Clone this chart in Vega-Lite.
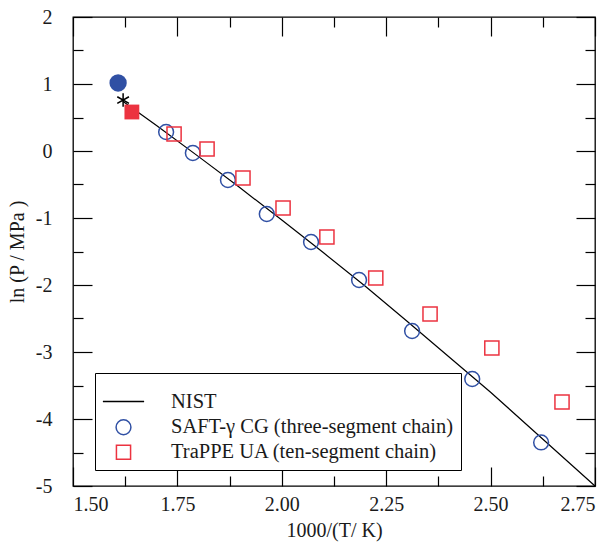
{
  "$schema": "https://vega.github.io/schema/vega-lite/v6.json",
  "width": 522,
  "height": 469,
  "autosize": {"type": "none"},
  "padding": {"left": 73, "top": 17, "right": 21, "bottom": 59},
  "background": "white",
  "config": {
    "font": "Liberation Serif",
    "view": {"stroke": "black", "strokeWidth": 1.3},
    "axis": {
      "domain": false,
      "grid": false,
      "labelFont": "Liberation Serif",
      "labelFontSize": 20,
      "labelColor": "#1a1a1a",
      "titleFont": "Liberation Serif",
      "titleFontSize": 20,
      "titleFontWeight": "normal",
      "titleColor": "#1a1a1a",
      "tickColor": "black",
      "tickWidth": 1.2
    },
    "legend": {
      "orient": "none",
      "legendX": 22,
      "legendY": 356,
      "fillColor": "white",
      "strokeColor": "black",
      "padding": 7,
      "labelFont": "Liberation Serif",
      "labelFontSize": 20.5,
      "labelColor": "#1a1a1a",
      "labelLimit": 500,
      "labelOffset": 26,
      "symbolStrokeWidth": 1.5,
      "rowPadding": 4
    }
  },
  "datasets": {
    "nist": [
      {"x": 1.62, "y": 0.74, "series": "NIST"},
      {"x": 1.70, "y": 0.38, "series": "NIST"},
      {"x": 1.80, "y": -0.08, "series": "NIST"},
      {"x": 1.90, "y": -0.55, "series": "NIST"},
      {"x": 2.00, "y": -1.03, "series": "NIST"},
      {"x": 2.10, "y": -1.52, "series": "NIST"},
      {"x": 2.20, "y": -2.02, "series": "NIST"},
      {"x": 2.30, "y": -2.54, "series": "NIST"},
      {"x": 2.40, "y": -3.07, "series": "NIST"},
      {"x": 2.50, "y": -3.60, "series": "NIST"},
      {"x": 2.60, "y": -4.16, "series": "NIST"},
      {"x": 2.70, "y": -4.72, "series": "NIST"},
      {"x": 2.75, "y": -5.0, "series": "NIST"}
    ],
    "sim": [
      {"x": 1.723, "y": 0.284, "series": "SAFT-γ CG (three-segment chain)"},
      {"x": 1.787, "y": -0.03, "series": "SAFT-γ CG (three-segment chain)"},
      {"x": 1.871, "y": -0.433, "series": "SAFT-γ CG (three-segment chain)"},
      {"x": 1.964, "y": -0.94, "series": "SAFT-γ CG (three-segment chain)"},
      {"x": 2.070, "y": -1.358, "series": "SAFT-γ CG (three-segment chain)"},
      {"x": 2.185, "y": -1.925, "series": "SAFT-γ CG (three-segment chain)"},
      {"x": 2.312, "y": -2.687, "series": "SAFT-γ CG (three-segment chain)"},
      {"x": 2.456, "y": -3.403, "series": "SAFT-γ CG (three-segment chain)"},
      {"x": 2.621, "y": -4.35, "series": "SAFT-γ CG (three-segment chain)"},
      {"x": 1.742, "y": 0.254, "series": "TraPPE UA (ten-segment chain)"},
      {"x": 1.821, "y": 0.03, "series": "TraPPE UA (ten-segment chain)"},
      {"x": 1.907, "y": -0.403, "series": "TraPPE UA (ten-segment chain)"},
      {"x": 2.003, "y": -0.851, "series": "TraPPE UA (ten-segment chain)"},
      {"x": 2.108, "y": -1.284, "series": "TraPPE UA (ten-segment chain)"},
      {"x": 2.225, "y": -1.896, "series": "TraPPE UA (ten-segment chain)"},
      {"x": 2.355, "y": -2.433, "series": "TraPPE UA (ten-segment chain)"},
      {"x": 2.503, "y": -2.94, "series": "TraPPE UA (ten-segment chain)"},
      {"x": 2.671, "y": -3.746, "series": "TraPPE UA (ten-segment chain)"}
    ],
    "critSaft": [{"x": 1.608, "y": 1.015}],
    "critNist": [{"x": 1.620, "y": 0.76}],
    "critTrappe": [{"x": 1.641, "y": 0.582}]
  },
  "layer": [
    {
      "data": {"name": "nist"},
      "mark": {"type": "line", "strokeWidth": 1.2},
      "encoding": {
        "x": {"field": "x", "type": "quantitative", "scale": {"domain": [1.5, 2.75], "nice": false, "zero": false},
          "axis": {"orient": "bottom", "values": [1.5, 1.75, 2.0, 2.25, 2.5, 2.75], "format": ".2f", "tickSize": -19, "labelPadding": 27, "title": "1000/(T/ K)", "titlePadding": 6}},
        "y": {"field": "y", "type": "quantitative", "scale": {"domain": [-5, 2], "nice": false, "zero": false},
          "axis": {"orient": "left", "values": [-5, -4, -3, -2, -1, 0, 1, 2], "labelExpr": "replace(datum.label, '\u2212', '-')", "tickSize": -19, "labelPadding": 40, "title": "ln (P / MPa )", "titlePadding": 8}},
        "color": {"field": "series", "type": "nominal", "title": null,
          "scale": {"domain": ["NIST", "SAFT-γ CG (three-segment chain)", "TraPPE UA (ten-segment chain)"], "range": ["black", "#3050a4", "#ec3340"]}}
      }
    },
    {
      "data": {"name": "sim"},
      "mark": {"type": "point", "filled": false, "strokeWidth": 1.5, "opacity": 1},
      "encoding": {
        "x": {"field": "x", "type": "quantitative", "scale": {"domain": [1.5, 2.75], "nice": false, "zero": false},
          "axis": {"orient": "top", "values": [1.5, 1.75, 2.0, 2.25, 2.5, 2.75], "tickSize": -19, "labels": false, "title": null}},
        "y": {"field": "y", "type": "quantitative", "scale": {"domain": [-5, 2], "nice": false, "zero": false},
          "axis": {"orient": "right", "values": [-5, -4, -3, -2, -1, 0, 1, 2], "tickSize": -19, "labels": false, "title": null}},
        "color": {"field": "series", "type": "nominal", "title": null,
          "scale": {"domain": ["NIST", "SAFT-γ CG (three-segment chain)", "TraPPE UA (ten-segment chain)"], "range": ["black", "#3050a4", "#ec3340"]}},
        "shape": {"field": "series", "type": "nominal", "title": null,
          "scale": {"domain": ["NIST", "SAFT-γ CG (three-segment chain)", "TraPPE UA (ten-segment chain)"], "range": ["stroke", "circle", "square"]}},
        "size": {"field": "series", "type": "nominal", "title": null,
          "scale": {"type": "ordinal", "domain": ["NIST", "SAFT-γ CG (three-segment chain)", "TraPPE UA (ten-segment chain)"], "range": [1700, 220, 200]}}
      }
    },
    {
      "data": {"name": "critSaft"},
      "mark": {"type": "point", "filled": true, "shape": "circle", "size": 300, "color": "#3050a4", "opacity": 1},
      "encoding": {
        "x": {"field": "x", "type": "quantitative", "scale": {"domain": [1.5, 2.75], "nice": false, "zero": false},
          "axis": {"orient": "bottom", "values": [1.625, 1.875, 2.125, 2.375, 2.625], "tickSize": -10, "labels": false, "title": null}},
        "y": {"field": "y", "type": "quantitative", "scale": {"domain": [-5, 2], "nice": false, "zero": false},
          "axis": {"orient": "left", "values": [-4.5, -3.5, -2.5, -1.5, -0.5, 0.5, 1.5], "tickSize": -10, "labels": false, "title": null}}
      }
    },
    {
      "data": {"name": "critNist"},
      "mark": {"type": "point", "filled": false, "shape": "M0,-1L0,1M-0.87,-0.5L0.87,0.5M-0.87,0.5L0.87,-0.5", "size": 180, "color": "black", "strokeWidth": 1.5, "opacity": 1},
      "encoding": {
        "x": {"field": "x", "type": "quantitative", "scale": {"domain": [1.5, 2.75], "nice": false, "zero": false},
          "axis": {"orient": "top", "values": [1.625, 1.875, 2.125, 2.375, 2.625], "tickSize": -10, "labels": false, "title": null}},
        "y": {"field": "y", "type": "quantitative", "scale": {"domain": [-5, 2], "nice": false, "zero": false},
          "axis": {"orient": "right", "values": [-4.5, -3.5, -2.5, -1.5, -0.5, 0.5, 1.5], "tickSize": -10, "labels": false, "title": null}}
      }
    },
    {
      "data": {"name": "critTrappe"},
      "mark": {"type": "point", "filled": true, "shape": "square", "size": 220, "color": "#ec3340", "opacity": 1},
      "encoding": {
        "x": {"field": "x", "type": "quantitative", "scale": {"domain": [1.5, 2.75], "nice": false, "zero": false}, "axis": null},
        "y": {"field": "y", "type": "quantitative", "scale": {"domain": [-5, 2], "nice": false, "zero": false}, "axis": null}
      }
    }
  ],
  "resolve": {"axis": {"x": "independent", "y": "independent"}}
}
